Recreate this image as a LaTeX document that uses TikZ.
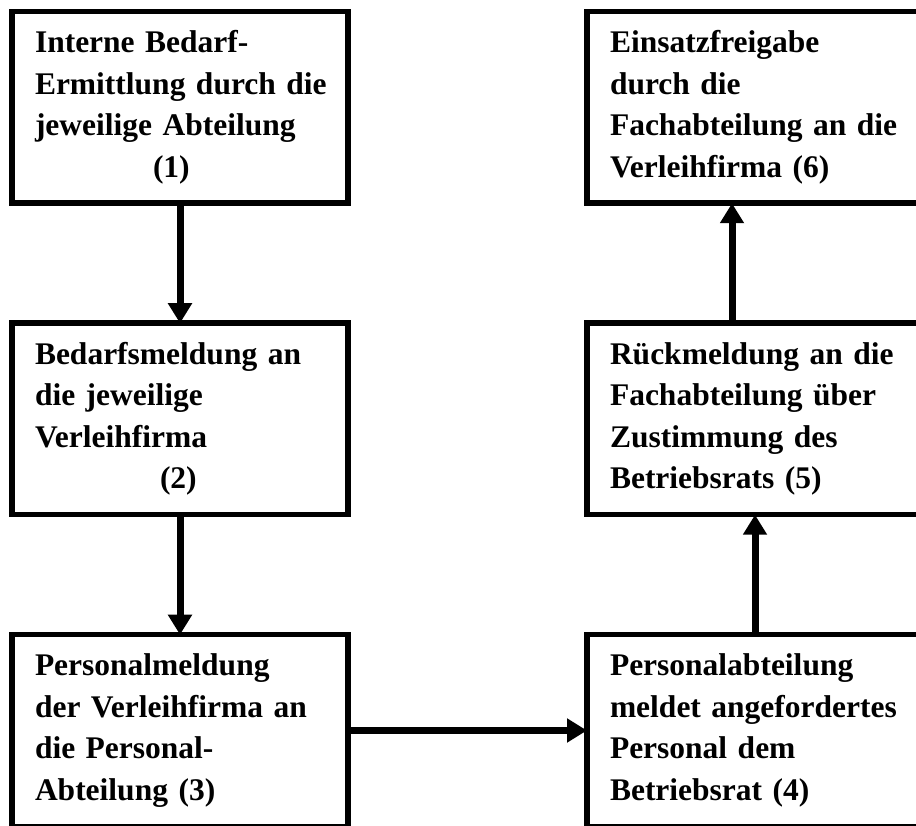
\documentclass[tikz,border=0pt]{standalone}
\usepackage{fontspec}
\setmainfont{Liberation Serif}
\usetikzlibrary{positioning,arrows.meta}

\begin{document}
\begin{tikzpicture}
\tikzstyle{stage}=[draw,rectangle,line width=5.5pt,outer sep=0pt,inner sep=0pt,minimum width=336pt,minimum height=191.5pt,text width=310pt,align=left,execute at begin node={\leftskip=10pt},font=\bfseries\fontsize{31.5}{41.5}\selectfont]
\tikzstyle{flow}=[line width=7pt,-{Triangle[length=20pt,width=23pt]}]

\clip (0,0) rectangle (916pt,825pt);

\node[stage] (ermittlung) at (180pt,717.5pt) {Interne Bedarf-\\Ermittlung durch die\\jeweilige Abteilung\\\hspace*{118pt}(1)};
\node[stage,below=120pt of ermittlung] (bedarf) {Bedarfsmeldung an\\die jeweilige\\Verleihfirma\\\hspace*{125pt}(2)};
\node[stage,below=120pt of bedarf] (personal) {Personalmeldung\\der Verleihfirma an\\die Personal-\\Abteilung (3)};

\node[stage,right=239pt of personal] (betriebsrat) {Personalabteilung\\meldet angefordertes\\Personal dem\\Betriebsrat (4)};
\node[stage,above=120pt of betriebsrat] (rueckmeldung) {Rückmeldung an die\\Fachabteilung über\\Zustimmung des\\Betriebsrats (5)};
\node[stage,above=120pt of rueckmeldung] (freigabe) {Einsatzfreigabe\\durch die\\Fachabteilung an die\\Verleihfirma (6)};

\draw[flow] (ermittlung) -- (bedarf);
\draw[flow] (bedarf) -- (personal);
\draw[flow] (personal) -- (betriebsrat);
\draw[flow] (betriebsrat) -- (rueckmeldung);
\draw[flow] ([xshift=-23pt]rueckmeldung.north) -- ([xshift=-23pt]freigabe.south);
\end{tikzpicture}
\end{document}
